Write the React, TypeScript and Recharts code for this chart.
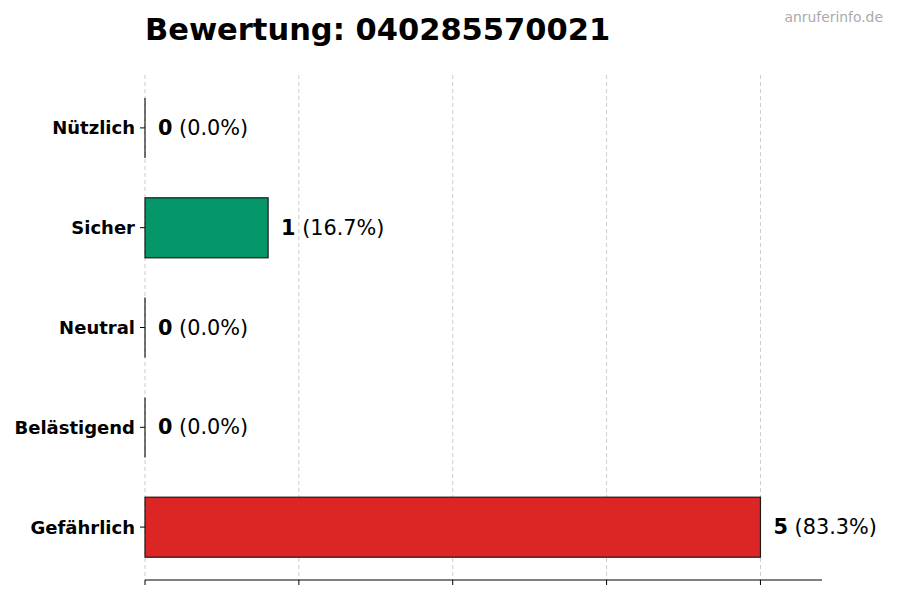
import { Bar, BarChart, CartesianGrid, LabelList, XAxis, YAxis } from "recharts";

const categories = ["Nützlich", "Sicher", "Neutral", "Belästigend", "Gefährlich"];
const counts = [0, 1, 0, 0, 5];
const barColors = ["#10b981", "#059669", "#9ca3af", "#f59e0b", "#dc2626"];
const xTicks = [0, 1.25, 2.5, 3.75, 5];
const xDomain: [number, number] = [0, 5.5];

const total = counts.reduce((a, b) => a + b, 0);

const data = categories.map((name, i) => ({ name, value: counts[i], color: barColors[i] }));

const FONT = "'DejaVu Sans', sans-serif";

const BarShape = (props: any) => {
  const { x, y, width, height, payload } = props;
  return (
    <rect x={x} y={y} width={width} height={height} fill={payload.color} stroke="#1a1a1a" strokeWidth={1.2} />
  );
};

// label after the bar; zero bars still get their edge line like the original
const ValueLabel = (props: any) => {
  const { x, y, width, height, value } = props;
  const pct = total > 0 ? ((value / total) * 100).toFixed(1) : "0.0";
  const x0 = Number(x);
  const y0 = Number(y);
  const w = Number(width);
  const h = Number(height);
  return (
    <g>
      {value === 0 && <line x1={x0} x2={x0} y1={y0} y2={y0 + h} stroke="#1a1a1a" strokeWidth={1.2} />}
      <text x={x0 + w + 13} y={y0 + h / 2} dominantBaseline="central" fontFamily={FONT} fontSize={20.8} fill="#000">
        <tspan fontWeight="bold">{value}</tspan>
        <tspan> ({pct}%)</tspan>
      </text>
    </g>
  );
};

const CategoryTick = (props: any) => {
  const { x, y, payload } = props;
  return (
    <text x={x} y={y} textAnchor="end" dominantBaseline="central" fontFamily={FONT} fontWeight="bold" fontSize={18} fill="#000">
      {payload.value}
    </text>
  );
};

const gridX = ({ offset }: any) =>
  xTicks.map((t) => offset.left + ((t - xDomain[0]) / (xDomain[1] - xDomain[0])) * offset.width);

const App = () => (
  <div style={{ position: "absolute", left: 0, top: 0, width: 900, height: 600, background: "#fff" }}>
    <BarChart width={900} height={600} data={data} layout="vertical" margin={{ top: 75, right: 78, bottom: 0, left: 0 }}>
      <CartesianGrid horizontal={false} stroke="#cccccc" strokeDasharray="4 3" verticalCoordinatesGenerator={gridX} />
      <XAxis
        type="number"
        domain={xDomain}
        ticks={xTicks}
        height={20}
        tickSize={5}
        tickFormatter={() => ""}
        axisLine={{ stroke: "#000" }}
        tickLine={{ stroke: "#000" }}
      />
      <YAxis
        type="category"
        dataKey="name"
        width={145}
        padding={{ top: 3, bottom: 3 }}
        axisLine={false}
        tickSize={5}
        tickMargin={5}
        tickLine={{ stroke: "#000" }}
        tick={<CategoryTick />}
      />
      <Bar dataKey="value" barSize={60} isAnimationActive={false} shape={<BarShape />}>
        <LabelList dataKey="value" content={<ValueLabel />} />
      </Bar>
    </BarChart>
    <svg width={900} height={600} style={{ position: "absolute", left: 0, top: 0, pointerEvents: "none" }}>
      <text x={145} y={40} fontFamily={FONT} fontWeight="bold" fontSize={30.5} fill="#000">
        Bewertung: 040285570021
      </text>
      <text x={883} y={22} textAnchor="end" fontFamily={FONT} fontSize={13.9} fill="#aaaaaa">
        anruferinfo.de
      </text>
    </svg>
  </div>
);

export default App;
